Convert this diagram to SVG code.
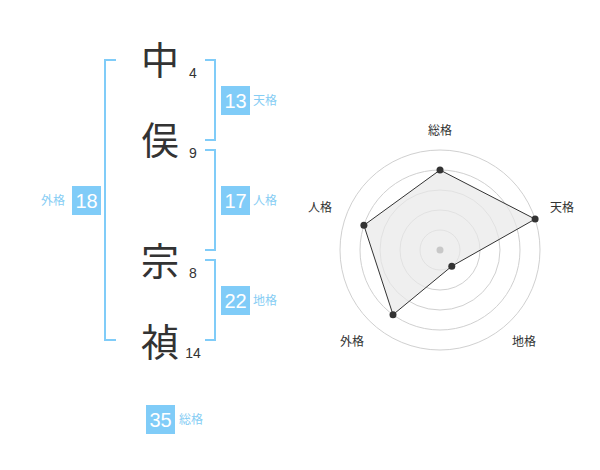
<svg xmlns="http://www.w3.org/2000/svg" width="600" height="470" viewBox="0 0 600 470">
<style>
.ch{font-family:"Noto Sans CJK JP","Noto Sans CJK SC",sans-serif;font-size:38px;fill:#333;text-anchor:middle}
.num{font-family:"Liberation Sans",Arial,sans-serif;font-size:14px;fill:#333;text-anchor:middle}
.box{fill:#80ccf8}
.bn{font-family:"Liberation Sans",Arial,sans-serif;font-size:20px;fill:#fff;text-anchor:middle}
.lb{font-family:"Noto Sans CJK JP",sans-serif;font-size:12px;fill:#86cdf4}
.br{fill:none;stroke:#80ccf8;stroke-width:2}
.ring{fill:none;stroke:#d0d0d0;stroke-width:1}
.rl{font-family:"Noto Sans CJK JP",sans-serif;font-size:12px;fill:#333;text-anchor:middle}
.pt{fill:#333}
</style>
<rect width="600" height="470" fill="#fff"/>
<g id="connectors">
<path class="br" d="M205,60 H215 V140 H205"/>
<path class="br" d="M205,150 H215 V250 H205"/>
<path class="br" d="M205,260 H215 V340 H205"/>
<path class="br" d="M116,60 H105 V340 H116"/>
</g>
<g id="char1"><text class="ch" x="160" y="74">中</text><text class="num" x="193" y="78">4</text></g>
<g id="char2"><text class="ch" x="160" y="154">俣</text><text class="num" x="193" y="158">9</text></g>
<g id="char3"><text class="ch" x="160" y="275">宗</text><text class="num" x="193" y="278">8</text></g>
<g id="char4"><text class="ch" x="160" y="356">禎</text><text class="num" x="193" y="358">14</text></g>
<g id="tenkaku"><rect class="box" x="221" y="86" width="29" height="29"/><text class="bn" x="235.5" y="107.5">13</text><text class="lb" x="253" y="105">天格</text></g>
<g id="jinkaku"><rect class="box" x="221" y="186" width="29" height="29"/><text class="bn" x="235.5" y="207.5">17</text><text class="lb" x="253" y="205">人格</text></g>
<g id="chikaku"><rect class="box" x="221" y="286" width="29" height="29"/><text class="bn" x="235.5" y="307.5">22</text><text class="lb" x="253" y="305">地格</text></g>
<g id="gaikaku"><rect class="box" x="72" y="186" width="29" height="29"/><text class="bn" x="86.5" y="207.5">18</text><text class="lb" x="41" y="205">外格</text></g>
<g id="soukaku"><rect class="box" x="146" y="405" width="29" height="29"/><text class="bn" x="160.5" y="426.5">35</text><text class="lb" x="179" y="424">総格</text></g>
<g id="radar">
<circle class="ring" cx="440" cy="250" r="20"/>
<circle class="ring" cx="440" cy="250" r="40"/>
<circle class="ring" cx="440" cy="250" r="60"/>
<circle class="ring" cx="440" cy="250" r="80"/>
<circle class="ring" cx="440" cy="250" r="100"/>
<polygon points="440,170 535.1,219.1 451.8,266.2 393,314.7 363.9,225.3" fill="#e8e8e8" fill-opacity="0.7" stroke="#333" stroke-width="1"/>
<circle cx="440" cy="250" r="3.5" fill="#c8c8c8"/>
<circle class="pt" cx="440" cy="170" r="3.5"/>
<circle class="pt" cx="535.1" cy="219.1" r="3.5"/>
<circle class="pt" cx="451.8" cy="266.2" r="3.5"/>
<circle class="pt" cx="393" cy="314.7" r="3.5"/>
<circle class="pt" cx="363.9" cy="225.3" r="3.5"/>
<text class="rl" x="440" y="135">総格</text>
<text class="rl" x="562" y="212">天格</text>
<text class="rl" x="320" y="212">人格</text>
<text class="rl" x="352" y="346">外格</text>
<text class="rl" x="524" y="346">地格</text>
</g>
</svg>
